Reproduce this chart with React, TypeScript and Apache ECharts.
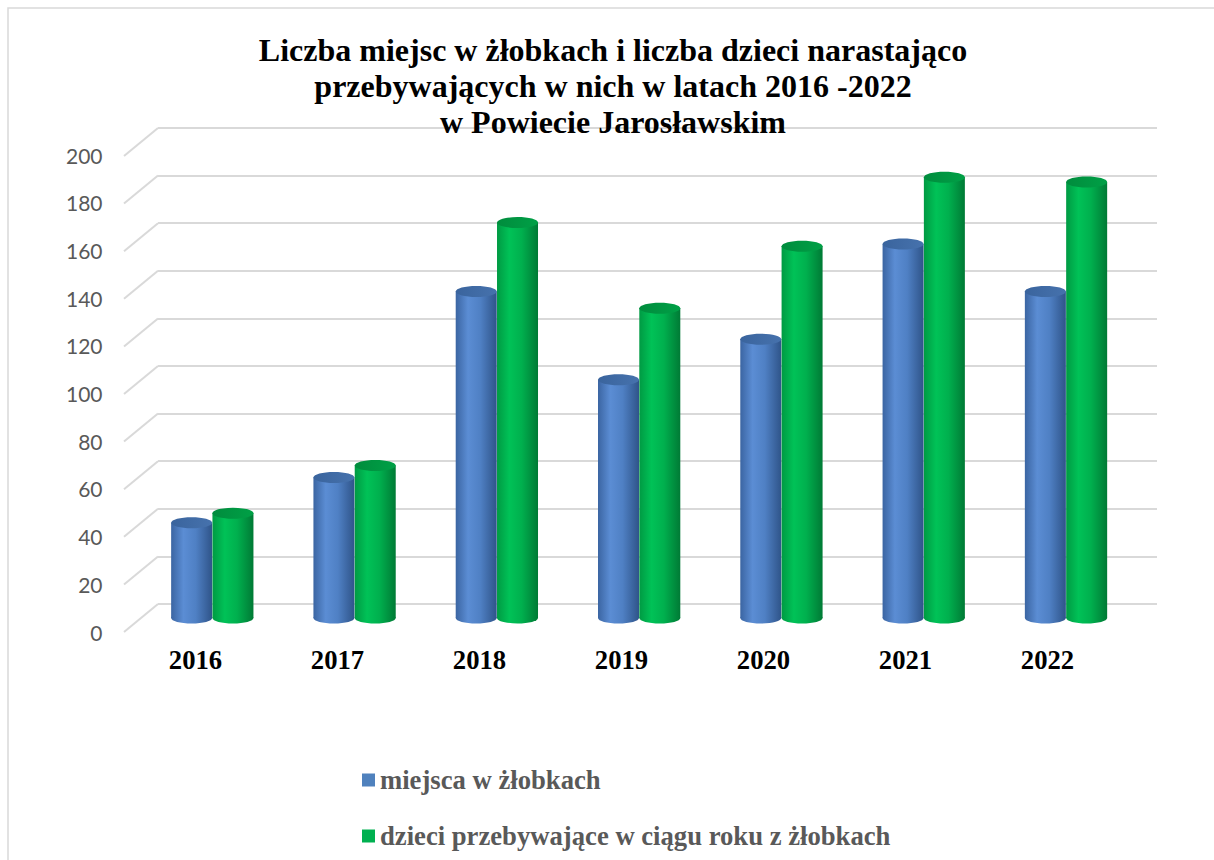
import React, { useEffect, useRef } from "react";
import * as echarts from "echarts";

const years = ["2016", "2017", "2018", "2019", "2020", "2021", "2022"];
const placesValues = [40, 59, 137, 100, 117, 157, 137];
const childrenValues = [44, 64, 166, 130, 156, 185, 183];
const yTicks = [0, 20, 40, 60, 80, 100, 120, 140, 160, 180, 200];
const seriesNames = ["miejsca w żłobkach", "dzieci przebywające w ciągu roku z żłobkach"];
const titleLines = [
  "Liczba miejsc w żłobkach i liczba dzieci narastająco",
  "przebywających w nich w latach 2016 -2022",
  "w Powiecie Jarosławskim",
];

const DEPTH_DX = 34;
const DEPTH_DY = 28;
const RX = 20.5;
const RY = 5.5;

function cylinder(offset: number, body: string[], topFill: string[]) {
  return (params: any, api: any) => {
    const idx = api.value(0);
    const val = api.value(1);
    const top = api.coord([idx, val]);
    const base = api.coord([idx, 0]);
    const cx = top[0] + offset;
    const bodyGrad = new echarts.graphic.LinearGradient(0, 0, 1, 0, [
      { offset: 0, color: body[0] },
      { offset: 0.3, color: body[1] },
      { offset: 0.6, color: body[2] },
      { offset: 1, color: body[3] },
    ]);
    const topGrad = new echarts.graphic.LinearGradient(0, 0, 1, 0, [
      { offset: 0, color: topFill[0] },
      { offset: 1, color: topFill[1] },
    ]);
    return {
      type: "group",
      children: [
        {
          type: "ellipse",
          shape: { cx, cy: base[1], rx: RX, ry: RY },
          style: { fill: bodyGrad },
        },
        {
          type: "rect",
          shape: { x: cx - RX, y: top[1], width: RX * 2, height: base[1] - top[1] },
          style: { fill: bodyGrad },
        },
        {
          type: "ellipse",
          shape: { cx, cy: top[1], rx: RX, ry: RY },
          style: { fill: topGrad },
        },
      ],
    };
  };
}

export default function App() {
  const ref = useRef<HTMLDivElement>(null);
  useEffect(() => {
    if (!ref.current) return;
    const chart = echarts.init(ref.current, undefined, { renderer: "svg" });
    const option: any = {
      animation: false,
      backgroundColor: "#ffffff",
      graphic: [
        {
          type: "rect",
          shape: { x: 8, y: 8, width: 1400, height: 1000 },
          style: { fill: "none", stroke: "#d9d9d9", lineWidth: 1.5 },
          z: 0,
        },
        ...titleLines.map((t, i) => ({
          type: "text",
          x: 613,
          y: 49.5 + i * 36,
          z: 10,
          style: {
            text: t,
            fill: "#000000",
            font: "bold 32px 'Liberation Serif', 'Times New Roman', serif",
            textAlign: "center",
            textVerticalAlign: "middle",
          },
        })),
      ],
      legend: {
        orient: "vertical",
        left: 357,
        top: 760,
        itemWidth: 13,
        itemHeight: 13,
        itemGap: 26,
        data: seriesNames.map((n) => ({ name: n, icon: "rect" })),
        textStyle: {
          fontFamily: "'Liberation Serif', 'Times New Roman', serif",
          fontWeight: "bold",
          fontSize: 26.67,
          lineHeight: 30,
          color: "#595959",
        },
      },
      grid: [
        { left: 158, top: 128, width: 999, height: 476 },
        { left: 124.5, top: 155, width: 994, height: 477 },
        { left: 141, top: 141.5, width: 996, height: 476.5 },
      ],
      xAxis: [
        { type: "value", gridIndex: 0, min: 0, max: 1, show: false },
        {
          type: "category",
          gridIndex: 1,
          data: years,
          axisLine: { show: false },
          axisTick: { show: false },
          axisLabel: {
            margin: 14,
            color: "#000000",
            fontFamily: "'Liberation Serif', 'Times New Roman', serif",
            fontWeight: "bold",
            fontSize: 26.67,
          },
        },
        { type: "category", gridIndex: 2, data: years, show: false },
      ],
      yAxis: [
        {
          type: "value",
          gridIndex: 0,
          min: 0,
          max: 200,
          interval: 20,
          axisLabel: { show: false },
          axisLine: { show: false },
          axisTick: { show: false },
          splitLine: { show: true, lineStyle: { color: "#d9d9d9", width: 2 } },
        },
        {
          type: "value",
          gridIndex: 1,
          min: 0,
          max: 200,
          interval: 20,
          axisLine: { show: false },
          axisTick: { show: false },
          splitLine: { show: false },
          axisLabel: {
            margin: 22,
            color: "#595959",
            fontFamily: "Lato, 'Liberation Sans', sans-serif",
            fontSize: 21,
          },
        },
        {
          type: "value",
          gridIndex: 2,
          min: 0,
          max: 200,
          interval: 20,
          show: false,
          splitLine: { show: false },
        },
      ],
      series: [
        {
          type: "custom",
          name: "grid-depth",
          xAxisIndex: 0,
          yAxisIndex: 0,
          silent: true,
          z: 1,
          data: yTicks.map((v) => [0, v]),
          renderItem: (params: any, api: any) => {
            const p = api.coord([0, api.value(1)]);
            return {
              type: "line",
              shape: { x1: p[0] - DEPTH_DX, y1: p[1] + DEPTH_DY, x2: p[0], y2: p[1] },
              style: { stroke: "#d9d9d9", lineWidth: 2 },
            };
          },
        },
        {
          type: "custom",
          name: seriesNames[0],
          xAxisIndex: 2,
          yAxisIndex: 2,
          itemStyle: { color: "#4f81bd" },
          data: placesValues.map((v, i) => [i, v]),
          renderItem: cylinder(-20.5, ["#3b65a2", "#5b8dd4", "#4f80c4", "#2f5489"], ["#3a649d", "#4672ad"]),
          z: 3,
        },
        {
          type: "custom",
          name: seriesNames[1],
          xAxisIndex: 2,
          yAxisIndex: 2,
          itemStyle: { color: "#00b050" },
          data: childrenValues.map((v, i) => [i, v]),
          renderItem: cylinder(20.8, ["#009a43", "#00c257", "#00b04e", "#007a35"], ["#008c3d", "#00a046"]),
          z: 4,
        },
      ],
    };
    chart.setOption(option);
    return () => chart.dispose();
  }, []);
  return (
    <div
      ref={ref}
      style={{ position: "absolute", left: 0, top: 0, width: 1214, height: 860 }}
    />
  );
}
